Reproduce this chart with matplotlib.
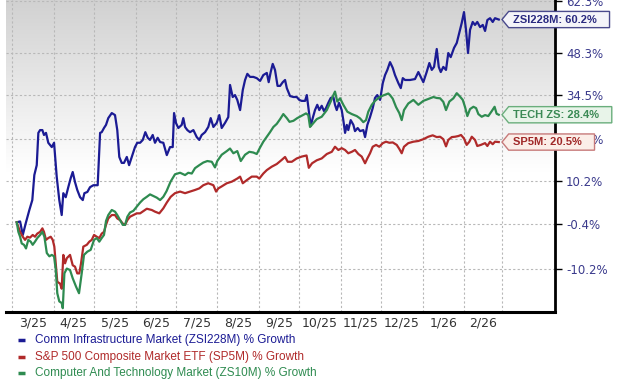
import numpy as np
import pandas as pd
import matplotlib
matplotlib.use("Agg")
import matplotlib.pyplot as plt
import matplotlib.ticker as mticker
import matplotlib.dates as mdates
from matplotlib.path import Path
from matplotlib.lines import Line2D

# ---------------- data (days since 2025-03-01, % growth) ----------------
blue_days = [3.5, 6.0, 8.0, 10.4, 12.9, 15.1, 16.6, 18.4, 19.6, 20.9,
             22.6, 23.8, 25.3, 27.0, 29.6, 31.3, 33.3, 35.2, 37.0, 38.2,
             40.0, 41.9, 43.7, 45.2, 46.9, 48.6, 50.7, 52.7, 53.9, 56.1,
             58.1, 60.6, 63.8, 65.6, 66.8, 68.5, 70.0, 71.7, 74.3, 76.7,
             78.4, 79.9, 81.7, 83.4, 85.5, 87.2, 89.2, 91.6, 93.3, 95.4,
             97.4, 99.3, 101.1, 102.8, 104.8, 106.5, 108.5, 110.3, 112.7, 115.3,
             117.7, 119.7, 120.7, 122.2, 123.9, 126.4, 127.6, 128.9, 130.6, 132.6,
             135.1, 137.6, 139.5, 141.3, 143.8, 146.2, 148.0, 150.0, 152.5, 154.4,
             156.2, 158.7, 161.1, 162.4, 164.4, 166.1, 167.8, 169.9, 171.9, 173.6,
             175.3, 177.3, 179.8, 182.3, 184.8, 187.2, 189.8, 191.2, 192.7, 194.2,
             195.9, 197.8, 199.7, 201.7, 203.4, 204.7, 207.1, 209.6, 212.1, 214.0,
             215.8, 218.3, 219.6, 221.5, 222.5, 224.0, 225.7, 227.4, 228.9, 230.7,
             232.4, 233.9, 235.6, 237.4, 239.4, 240.6, 241.9, 243.6, 245.6, 246.8,
             248.1, 249.4, 250.5, 252.3, 254.3, 255.5, 257.5, 259.3, 261.7, 263.0,
             264.7, 266.7, 268.7, 270.4, 272.1, 274.2, 276.2, 277.9, 279.6, 281.6,
             283.6, 285.3, 287.8, 289.6, 291.1, 292.8, 296.5, 300.2, 302.7, 304.5,
             306.4, 308.9, 310.9, 312.7, 314.4, 316.4, 317.9, 319.4, 321.3, 323.3,
             325.0, 326.8, 329.3, 331.3, 333.2, 335.0, 336.7, 338.2, 339.7, 341.2,
             343.2, 344.9, 346.6, 348.7, 350.7, 352.4, 354.1, 356.1, 358.1, 359.8, 362.6]
blue_vals = [0.0, 0.2, -2.9, 0.0, 2.9, 5.3, 11.6, 14.2, 23.1, 23.9,
             23.9, 22.5, 23.1, 20.3, 19.1, 20.3, 11.1, 5.3, 1.7, 7.0,
             6.0, 8.5, 10.8, 12.4, 9.8, 7.8, 6.0, 5.3, 7.0, 7.3,
             8.5, 9.0, 9.0, 23.1, 23.3, 24.5, 25.4, 27.4, 28.9, 28.3,
             23.9, 16.4, 14.8, 14.8, 16.4, 14.2, 16.4, 19.1, 20.3, 20.3,
             21.1, 23.3, 21.7, 21.1, 22.5, 20.3, 21.7, 20.5, 20.3, 16.9,
             19.1, 19.1, 28.9, 25.9, 24.5, 25.4, 27.4, 24.8, 23.9, 23.3,
             23.9, 21.9, 21.1, 22.5, 23.3, 24.8, 27.4, 24.8, 26.0, 28.3,
             24.5, 26.0, 27.7, 37.6, 33.8, 34.4, 32.9, 29.8, 36.0, 39.2,
             41.2, 40.2, 40.2, 39.8, 38.9, 40.8, 41.5, 38.5, 41.8, 44.5,
             42.5, 37.3, 37.3, 38.5, 39.2, 36.6, 34.1, 33.8, 33.8, 32.9,
             32.6, 32.6, 34.4, 28.3, 25.1, 27.4, 29.8, 31.4, 29.8, 31.1,
             29.5, 30.4, 32.0, 33.5, 33.8, 31.4, 29.8, 32.0, 29.8, 26.8,
             23.1, 25.4, 23.9, 26.8, 25.4, 23.6, 24.5, 23.6, 23.9, 21.9,
             25.4, 27.7, 30.4, 33.5, 34.4, 32.9, 38.2, 40.8, 42.5, 45.1,
             43.2, 40.8, 38.2, 36.6, 39.8, 39.2, 39.2, 39.5, 41.8, 40.2,
             38.5, 41.8, 44.8, 42.5, 43.5, 49.6, 43.5, 41.8, 43.5, 42.5,
             48.2, 46.8, 50.0, 51.7, 55.3, 58.9, 63.0, 56.4, 48.2, 56.4,
             59.3, 58.2, 59.3, 57.4, 58.2, 56.0, 60.0, 60.7, 59.3, 60.7, 60.2]

red_days = [3.5, 6.0, 8.0, 9.7, 11.4, 13.4, 15.4, 17.1, 18.8, 20.9,
            22.6, 23.8, 25.3, 27.0, 28.8, 30.3, 31.5, 32.8, 33.7, 35.8,
            37.0, 38.2, 39.5, 40.8, 43.2, 45.2, 46.9, 48.6, 50.1, 51.4,
            53.1, 55.7, 57.6, 59.4, 61.1, 63.1, 65.0, 66.8, 68.5, 70.0,
            71.7, 74.3, 76.7, 78.4, 80.5, 82.5, 84.2, 85.9, 87.9, 90.4,
            92.9, 95.4, 100.4, 104.1, 106.5, 109.7, 112.7, 115.3, 118.2, 121.4,
            125.2, 128.9, 132.6, 136.3, 139.5, 142.5, 146.2, 150.0, 152.0, 153.7,
            156.2, 160.0, 163.7, 167.8, 169.9, 171.9, 174.9, 178.6, 182.3, 184.2,
            187.2, 189.8, 193.5, 197.2, 200.9, 203.4, 205.4, 208.4, 212.1, 215.8,
            219.4, 221.1, 223.5, 227.0, 230.7, 234.5, 238.2, 240.6, 243.1, 245.6,
            248.1, 250.5, 253.1, 255.5, 258.0, 260.5, 263.0, 264.7, 266.7, 268.7,
            271.2, 273.6, 276.2, 278.6, 281.1, 283.6, 286.6, 288.5, 290.3, 292.0,
            295.2, 299.0, 302.7, 306.4, 310.1, 313.4, 316.4, 318.9, 321.3, 323.3,
            325.0, 327.6, 330.0, 332.5, 334.5, 336.7, 338.7, 340.7, 342.5, 344.9,
            346.6, 349.2, 352.4, 354.1, 356.1, 358.1, 359.8, 362.6]
red_vals = [0.0, -2.2, -3.3, -4.0, -3.3, -3.5, -2.9, -3.3, -2.6, -2.2,
            -1.4, -2.2, -4.0, -3.6, -3.3, -4.0, -5.5, -9.8, -12.9, -13.3,
            -14.3, -7.3, -9.1, -8.0, -7.3, -9.5, -9.8, -11.2, -11.2, -9.1,
            -5.5, -5.1, -4.4, -4.0, -2.9, -3.3, -3.6, -2.6, -2.2, -0.6,
            0.9, 1.7, 1.7, 0.9, 0.5, -0.3, -0.6, 0.5, 1.3, 1.7,
            2.1, 2.1, 3.2, 2.9, 2.5, 2.1, 3.3, 4.7, 6.1, 7.0,
            7.4, 7.0, 7.4, 7.8, 8.2, 9.0, 9.5, 9.0, 7.4, 8.2,
            8.7, 9.5, 9.9, 10.7, 11.2, 9.5, 10.3, 11.2, 11.2, 10.7,
            12.0, 12.9, 13.8, 14.5, 15.6, 16.4, 15.1, 15.1, 16.0, 16.5,
            16.8, 13.5, 14.7, 15.5, 16.0, 17.2, 17.8, 19.2, 18.3, 18.8,
            18.3, 17.4, 17.8, 18.3, 17.2, 16.5, 14.7, 16.0, 17.4, 19.2,
            19.7, 19.2, 20.2, 20.6, 20.3, 20.4, 19.7, 18.6, 17.4, 19.2,
            20.2, 20.6, 20.8, 21.3, 22.0, 22.4, 21.9, 22.0, 21.3, 19.3,
            21.1, 21.9, 22.0, 22.2, 22.5, 21.5, 19.7, 20.6, 22.0, 21.1,
            19.4, 19.7, 20.2, 19.4, 20.6, 19.9, 20.6, 20.5]

green_days = [3.5, 4.7, 6.0, 7.2, 8.9, 10.4, 12.1, 13.9, 15.4, 17.1,
              18.8, 20.9, 22.6, 24.1, 25.9, 27.8, 29.6, 31.3, 32.6, 33.7,
              35.2, 37.0, 37.8, 39.0, 40.8, 43.2, 45.2, 47.7, 49.9, 51.9,
              53.6, 56.1, 58.6, 61.1, 63.1, 65.0, 66.8, 68.5, 70.0, 71.7,
              74.3, 76.7, 78.4, 80.5, 82.5, 84.2, 85.9, 87.9, 90.4, 92.9,
              95.4, 97.8, 100.4, 102.8, 105.3, 107.8, 110.3, 112.7, 115.1, 118.1,
              121.4, 125.2, 128.9, 131.3, 133.9, 136.3, 139.5, 142.5, 145.5, 148.8,
              151.2, 152.9, 156.2, 160.0, 162.4, 164.9, 167.8, 170.4, 173.6, 176.8,
              179.8, 182.3, 184.8, 187.2, 189.8, 192.2, 194.7, 197.2, 199.7, 202.1,
              204.7, 206.7, 209.6, 212.5, 215.8, 219.0, 220.7, 222.0, 224.0, 227.0,
              230.7, 234.5, 237.4, 239.4, 240.6, 242.3, 244.4, 246.8, 249.8, 253.1,
              256.8, 259.3, 261.7, 263.7, 265.4, 268.0, 270.4, 273.6, 276.6, 280.3,
              281.6, 283.6, 286.1, 288.5, 290.3, 292.0, 295.2, 299.0, 302.7, 306.4,
              310.1, 313.9, 316.4, 318.9, 321.3, 323.3, 325.8, 328.8, 331.3, 333.8,
              335.8, 337.5, 339.2, 341.2, 343.7, 345.7, 347.4, 349.9, 352.4, 354.8,
              357.4, 359.5, 361.0, 362.6]
green_vals = [0.0, -2.2, -3.3, -4.8, -5.1, -5.9, -4.0, -4.4, -5.1, -4.4,
              -3.6, -2.9, -2.2, -3.3, -6.9, -7.6, -7.3, -7.6, -10.5, -15.2,
              -16.8, -17.1, -18.1, -11.2, -10.2, -10.5, -12.2, -13.9, -15.2, -11.2,
              -7.3, -6.6, -6.2, -4.0, -3.6, -4.4, -3.6, -2.9, 0.3, 1.7,
              2.9, 2.5, 1.7, 0.5, -0.6, -0.6, 1.3, 2.3, 2.7, 3.7,
              4.7, 5.5, 6.1, 6.7, 6.3, 5.9, 5.3, 6.1, 7.5, 9.9,
              11.8, 12.2, 11.6, 12.2, 12.0, 13.4, 14.2, 14.9, 15.3, 15.1,
              13.6, 15.3, 17.0, 18.0, 18.7, 17.4, 18.0, 15.3, 17.0, 17.8,
              17.6, 17.2, 19.0, 20.6, 22.0, 23.3, 24.8, 25.7, 27.1, 28.6,
              27.4, 26.3, 26.6, 27.4, 28.1, 28.8, 28.3, 24.8, 25.7, 27.1,
              27.8, 29.8, 32.4, 34.4, 35.5, 32.4, 33.4, 31.4, 29.3, 28.6,
              28.0, 27.3, 26.2, 26.8, 29.3, 31.4, 32.6, 33.7, 34.3, 34.9,
              34.4, 33.3, 30.7, 28.9, 26.8, 29.8, 31.8, 32.9, 31.4, 32.6,
              33.2, 33.8, 33.5, 33.4, 32.3, 29.8, 32.4, 33.4, 35.0, 33.9,
              32.9, 30.7, 28.0, 30.1, 30.8, 30.4, 28.6, 27.8, 28.3, 28.0,
              29.5, 30.8, 28.7, 28.4]

series_legend = ["Comm Infrastructure Market (ZSI228M) % Growth",
                 "S&P 500 Composite Market ETF (SP5M) % Growth",
                 "Computer And Technology Market (ZS10M) % Growth"]
series_tags = ["ZSI228M", "SP5M", "TECH ZS"]
x_labels = ["3/25", "4/25", "5/25", "6/25", "7/25", "8/25",
            "9/25", "10/25", "11/25", "12/25", "1/26", "2/26"]
y_tick_pos = [67.3, 48.3, 34.5, 21.4, 10.2, -0.4, -10.2]
y_tick_labels = ["62.3%", "48.3%", "34.5%", "21.4%", "10.2%", "-0.4%", "-10.2%"]

# ---------------- styling ----------------
colors = ["#1b1b94", "#b02a2a", "#2e8b50"]
text_colors = ["#2a2a80", "#a02828", "#3b8a55"]
box_fc = ["#f4f4f9", "#fbeee8", "#e8f4e9"]
box_ec = ["#4a4a8c", "#c77a7a", "#6aae7c"]

START = pd.Timestamp("2025-03-01")


def to_dates(days):
    return (START + pd.to_timedelta(np.asarray(days, dtype=float), unit="D")).to_numpy()


def to_factor(pct):
    return 1.0 + np.asarray(pct, dtype=float) / 100.0


class TagBox:
    """Label box with a left-pointing tip."""
    def __init__(self, padx=0.42, pady=0.28, tip=0.6, extra_right=0.7):
        self.padx, self.pady, self.tip, self.extra_right = padx, pady, tip, extra_right

    def __call__(self, x0, y0, width, height, mutation_size):
        px = self.padx * mutation_size
        py = self.pady * mutation_size
        left = x0 - px
        right = x0 + width + px + self.extra_right * mutation_size
        bottom = y0 - py
        top = y0 + height + py
        mid = 0.5 * (bottom + top)
        tip = self.tip * mutation_size
        verts = [(left, bottom), (right, bottom), (right, top), (left, top),
                 (left - tip, mid), (left, bottom)]
        codes = [Path.MOVETO] + [Path.LINETO] * 4 + [Path.CLOSEPOLY]
        return Path(verts, codes)


W, H = 620, 392
fig = plt.figure(figsize=(W / 100, H / 100), dpi=100)
fig.patch.set_facecolor("white")
rect = [6 / W, 1 - 312 / H, 549 / W, 312 / H]

# gradient background
bg = fig.add_axes(rect, zorder=0)
bg.axis("off")
t = np.linspace(0, 1, 256)[:, None]
shade = 0.82 + 0.18 * np.clip(t / 0.55, 0, 1)
img = np.dstack([shade, shade, shade]) * np.ones((1, 2, 1))
bg.imshow(img, aspect="auto", extent=[0, 1, 0, 1], origin="upper")
bg.set_xlim(0, 1)
bg.set_ylim(0, 1)

ax = fig.add_axes(rect, zorder=1)
ax.patch.set_alpha(0)

all_days = [blue_days, red_days, green_days]
all_vals = [blue_vals, red_vals, green_vals]
lines = []
for d, v, c in zip(all_days, all_vals, colors):
    ln, = ax.plot(to_dates(d), to_factor(v), color=c, lw=1.6, solid_joinstyle="round", zorder=3)
    lines.append(ln)

ax.set_yscale("log")
ax.set_ylim(0.8118, 1.6764)
ax.set_xlim(mdates.date2num(START - pd.Timedelta(days=4.5)),
            mdates.date2num(START + pd.Timedelta(days=404.5)))

# y axis on the right
ax.yaxis.tick_right()
ax.yaxis.set_major_locator(mticker.FixedLocator(to_factor(y_tick_pos)))
ax.yaxis.set_major_formatter(mticker.FixedFormatter(y_tick_labels))
ax.yaxis.set_minor_locator(mticker.NullLocator())
ax.yaxis.set_minor_formatter(mticker.NullFormatter())
ax.tick_params(axis="y", which="major", direction="out", length=5, width=1,
               color="black", pad=3, labelsize=8.5, labelcolor="#3a3a8c")

# x axis: gridlines at month starts, labels mid-month
month_starts = pd.date_range("2025-03-01", "2026-03-01", freq="MS")
mids = month_starts[:-1] + (month_starts[1:] - month_starts[:-1]) / 2
ax.xaxis.set_major_locator(mticker.FixedLocator(mdates.date2num(month_starts.to_pydatetime())))
ax.xaxis.set_major_formatter(mticker.NullFormatter())
ax.xaxis.set_minor_locator(mticker.FixedLocator(mdates.date2num(mids.to_pydatetime())))
ax.xaxis.set_minor_formatter(mticker.FixedFormatter(x_labels))
ax.tick_params(axis="x", which="both", length=0, pad=3.5, labelsize=9, labelcolor="#333333")

ax.grid(True, which="major", axis="both", color="#b8b8b8", linestyle=(0, (2, 2)), linewidth=0.8)
ax.set_axisbelow(True)

for s in ["top", "left"]:
    ax.spines[s].set_visible(False)
ax.spines["right"].set_linewidth(2)
ax.spines["bottom"].set_linewidth(2.2)
ax.spines["right"].set_color("black")
ax.spines["bottom"].set_color("black")

# end-of-line tags
for i, (d, v) in enumerate(zip(all_days, all_vals)):
    label = f"{series_tags[i]}: {v[-1]:.1f}%"
    ax.annotate(label, xy=(mdates.date2num(pd.Timestamp(to_dates([d[-1]])[0])), to_factor(v[-1])),
                xycoords="data", xytext=(10.5, 0), textcoords="offset points",
                ha="left", va="center", fontsize=8, fontweight="bold",
                family="Liberation Sans", color=text_colors[i],
                bbox=dict(boxstyle=TagBox(), fc=box_fc[i], ec=box_ec[i], lw=1),
                annotation_clip=False, zorder=10)

# legend below
legend_rows = [340, 356.7, 373.3]
for lab, c, yrow in zip(series_legend, colors, legend_rows):
    yf = 1 - yrow / H
    fig.add_artist(Line2D([18 / W, 25 / W], [yf, yf], color=c, lw=2.5, solid_capstyle="butt"))
    fig.text(35 / W, yf, lab, color=c, fontsize=8.5, family="Liberation Sans",
             ha="left", va="center")

fig.savefig("out.png", dpi=100)
